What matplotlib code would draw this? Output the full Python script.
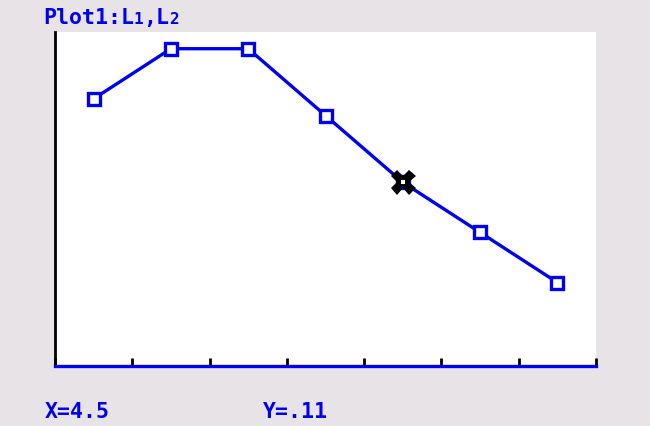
import matplotlib
matplotlib.use("Agg")
import matplotlib.pyplot as plt

# Data (L1, L2)
L1 = [0.5, 1.5, 2.5, 3.5, 4.5, 5.5, 6.5]
L2 = [0.16, 0.19, 0.19, 0.15, 0.11, 0.08, 0.05]
x_ticks = [0, 1, 2, 3, 4, 5, 6, 7]
cursor_x, cursor_y = 4.5, 0.11
title_parts = [("Plot1:L", False), ("1", True), (",L", False), ("2", True)]
xlabel_text = "X=4.5"
ylabel_text = "Y=.11"

BLUE = "#0000ee"
BG = "#e7e3e7"
W, H = 650, 427

fig = plt.figure(figsize=(6.5, 4.27), dpi=100, facecolor=BG)
ax = fig.add_axes([55/W, (H-367)/H, 541/W, 334/H])
ax.set_facecolor("white")

ax.plot(L1, L2, color=BLUE, lw=2.4, marker="s", markersize=9,
        markerfacecolor="white", markeredgecolor=BLUE, markeredgewidth=2.4, zorder=3)
ax.plot([cursor_x], [cursor_y], marker="X", color="black", markersize=18,
        markeredgewidth=0, zorder=4)
ax.plot([cursor_x], [cursor_y], marker="s", color="white", markersize=3.5,
        markeredgewidth=0, zorder=5)

ax.set_xlim(0, 7)
ax.set_ylim(0, 0.2)
ax.set_xticks(x_ticks)
ax.set_xticklabels([])
ax.set_yticks([])
ax.tick_params(axis="x", direction="in", length=6, width=2, color="black")
for s in ["top", "right"]:
    ax.spines[s].set_visible(False)
ax.spines["left"].set_color("black")
ax.spines["left"].set_linewidth(2)
ax.spines["bottom"].set_color(BLUE)
ax.spines["bottom"].set_linewidth(2.4)

BIG, SMALL = 15.5, 11.5
ADV = 0.602  # monospace advance in em
font = dict(family="DejaVu Sans Mono", fontweight="bold", color=BLUE)

# title, built from pieces so the small digits sit on the baseline
x = 43.0
for txt, small in title_parts:
    fs = SMALL if small else BIG
    fig.text(x/W, 1 - 24/H, txt, ha="left", va="baseline", fontsize=fs, **font)
    x += len(txt) * ADV * fs * 100/72

fig.text(45/W, 1 - 418/H, xlabel_text, ha="left", va="baseline", fontsize=BIG, **font)
fig.text(263/W, 1 - 418/H, ylabel_text, ha="left", va="baseline", fontsize=BIG, **font)

fig.savefig("out.png", dpi=100, facecolor=BG)
